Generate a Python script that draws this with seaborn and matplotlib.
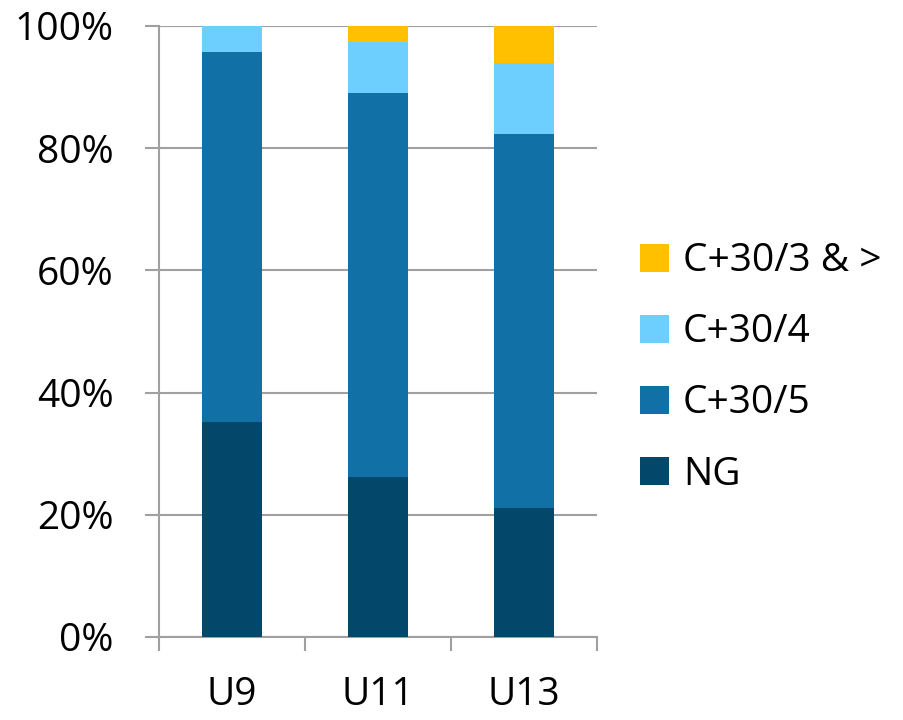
import pandas as pd
import seaborn as sns
import matplotlib.pyplot as plt
from matplotlib.patches import Patch
from matplotlib.ticker import PercentFormatter

groups = ["U9", "U11", "U13"]
ng = [35.2, 26.2, 21.1]
c5 = [60.5, 62.9, 61.2]
c4 = [4.3, 8.2, 11.6]
c3 = [0.0, 2.7, 6.1]

series = ["NG", "C+30/5", "C+30/4", "C+30/3 & >"]
colors = ["#03476A", "#1170A5", "#6DCFFD", "#FFC000"]

df = pd.DataFrame({"group": groups, "NG": ng, "C+30/5": c5, "C+30/4": c4, "C+30/3 & >": c3})
cum = df[series].cumsum(axis=1)
cum["group"] = df["group"]

sns.set_style("white")
plt.rcParams["font.family"] = ["Open Sans", "DejaVu Sans"]
plt.rcParams["text.color"] = "black"
plt.rcParams["xtick.labelcolor"] = "black"
plt.rcParams["ytick.labelcolor"] = "black"

fig = plt.figure(figsize=(9.04, 7.2), dpi=100)
ax = fig.add_axes([0.176, 0.1153, 0.4845, 0.8486])

# stacked: draw cumulative totals from top layer down
for name, col in zip(series[::-1], colors[::-1]):
    sns.barplot(data=cum, x="group", y=name, color=col, width=0.41,
                saturation=1, ax=ax, zorder=3, edgecolor="none")

ax.set_xlim(-0.5, 2.5)
ax.set_ylim(0, 100)
ax.set_yticks([0, 20, 40, 60, 80, 100])
ax.yaxis.set_major_formatter(PercentFormatter(decimals=0))
ax.set_xlabel("")
ax.set_ylabel("")
ax.grid(axis="y", color="#A0A0A0", linewidth=1.5, zorder=0)
ax.set_axisbelow(True)

for s in ["top", "right"]:
    ax.spines[s].set_visible(False)
for s in ["left", "bottom"]:
    ax.spines[s].set_color("#A0A0A0")
    ax.spines[s].set_linewidth(1.5)

ax.tick_params(axis="y", left=True, length=10, width=1.5, color="#A0A0A0",
               pad=23, labelsize=28, labelcolor="black")
ax.tick_params(axis="x", which="major", length=0, pad=28, labelsize=28,
               labelcolor="black")
ax.set_xticks([-0.5, 0.5, 1.5, 2.5], minor=True)
ax.tick_params(axis="x", which="minor", bottom=True, length=10, width=1.5,
               color="#A0A0A0")

handles = [Patch(facecolor=c, edgecolor="none") for c in colors[::-1]]
fig.legend(handles, series[::-1], loc="center left", bbox_to_anchor=(0.708, 0.489),
           frameon=False, fontsize=28, handlelength=0.75, handleheight=0.75,
           handletextpad=0.35, labelspacing=0.85, borderpad=0, borderaxespad=0,
           labelcolor="black")

fig.savefig("out.png", dpi=100)
